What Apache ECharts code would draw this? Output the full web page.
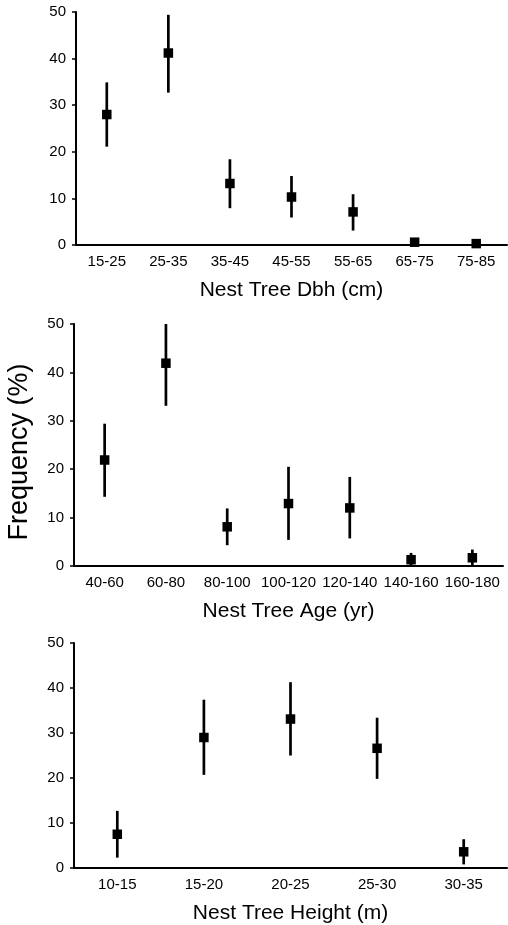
<!DOCTYPE html>
<html>
<head>
<meta charset="utf-8">
<script src="https://cdn.jsdelivr.net/npm/echarts@6/dist/echarts.min.js"></script>
<style>
  html, body { margin: 0; padding: 0; background: #fff; }
  #chart { width: 508px; height: 925px; }
</style>
</head>
<body>
<div id="chart"></div>
<script>
// data
var yTicks = [0, 10, 20, 30, 40, 50];

var dbhCats = ['15-25', '25-35', '35-45', '45-55', '55-65', '65-75', '75-85'];
var dbhMean = [28.0, 41.2, 13.2, 10.3, 7.1, 0.6, 0.3];
var dbhLow  = [21.1, 32.7, 7.9, 5.9, 3.1, null, null];
var dbhHigh = [34.9, 49.4, 18.4, 14.8, 10.9, null, null];

var ageCats = ['40-60', '60-80', '80-100', '100-120', '120-140', '140-160', '160-180'];
var ageMean = [21.9, 41.9, 8.1, 12.9, 12.0, 1.3, 1.7];
var ageLow  = [14.3, 33.1, 4.3, 5.4, 5.7, 0.0, 0.0];
var ageHigh = [29.4, 50.0, 11.9, 20.5, 18.4, 2.7, 3.4];

var htCats = ['10-15', '15-20', '20-25', '25-30', '30-35'];
var htMean = [7.5, 29.0, 33.1, 26.6, 3.6];
var htLow  = [2.3, 20.7, 25.0, 19.8, 0.8];
var htHigh = [12.7, 37.4, 41.3, 33.4, 6.4];

var FONT = '"Liberation Sans", Arial, sans-serif';

var myChart = echarts.init(document.getElementById('chart'));

function xAxisFor (idx, cats, title) {
  return {
    type: 'category',
    gridIndex: idx,
    data: cats,
    boundaryGap: true,
    name: title,
    nameLocation: 'middle',
    nameGap: 35,
    nameTextStyle: { fontFamily: FONT, fontSize: 21, color: '#000' },
    axisLine: { lineStyle: { color: '#000', width: 2 } },
    axisTick: { alignWithLabel: true, length: 4, lineStyle: { color: '#000', width: 1.5 } },
    axisLabel: { interval: 0, margin: 9, fontFamily: FONT, fontSize: 15, color: '#000' },
    splitLine: { show: false }
  };
}

function yAxisFor (idx) {
  return {
    type: 'value',
    gridIndex: idx,
    min: yTicks[0],
    max: yTicks[yTicks.length - 1],
    interval: 10,
    axisLine: { show: true, lineStyle: { color: '#000', width: 2 } },
    axisTick: { show: true, length: 4, lineStyle: { color: '#000', width: 1.5 } },
    axisLabel: { margin: 10, fontFamily: FONT, fontSize: 15, color: '#000' },
    splitLine: { show: false }
  };
}

// error bars drawn through the axes' own coord system
function errorSeries (idx, low, high) {
  var data = [];
  for (var i = 0; i < low.length; i++) {
    if (low[i] != null && high[i] != null) data.push([i, low[i], high[i]]);
  }
  return {
    type: 'custom',
    xAxisIndex: idx,
    yAxisIndex: idx,
    data: data,
    z: 2,
    renderItem: function (params, api) {
      var top = api.coord([api.value(0), api.value(2)]);
      var bot = api.coord([api.value(0), api.value(1)]);
      return {
        type: 'line',
        shape: { x1: top[0], y1: top[1], x2: bot[0], y2: bot[1] },
        style: { stroke: '#000', lineWidth: 2.7 }
      };
    }
  };
}

function markerSeries (idx, mean) {
  return {
    type: 'scatter',
    xAxisIndex: idx,
    yAxisIndex: idx,
    symbol: 'rect',
    symbolSize: 9.5,
    itemStyle: { color: '#000', opacity: 1 },
    z: 3,
    data: mean.map(function (v, i) { return [i, v]; })
  };
}

var option = {
  animation: false,
  backgroundColor: '#fff',
  grid: [
    { left: 76, right: 1, top: 12, height: 233 },
    { left: 74, right: 5, top: 324, height: 242 },
    { left: 74, right: 1, top: 643, height: 225 }
  ],
  xAxis: [
    xAxisFor(0, dbhCats, 'Nest Tree Dbh (cm)'),
    xAxisFor(1, ageCats, 'Nest Tree Age (yr)'),
    xAxisFor(2, htCats, 'Nest Tree Height (m)')
  ],
  yAxis: [yAxisFor(0), yAxisFor(1), yAxisFor(2)],
  graphic: [{
    type: 'text',
    x: 20,
    y: 452,
    rotation: Math.PI / 2,
    style: {
      text: 'Frequency (%)',
      fontFamily: FONT,
      fontSize: 27,
      fill: '#000',
      align: 'center',
      verticalAlign: 'middle'
    }
  }],
  series: [
    errorSeries(0, dbhLow, dbhHigh), markerSeries(0, dbhMean),
    errorSeries(1, ageLow, ageHigh), markerSeries(1, ageMean),
    errorSeries(2, htLow, htHigh), markerSeries(2, htMean)
  ]
};

myChart.setOption(option);
</script>
</body>
</html>
